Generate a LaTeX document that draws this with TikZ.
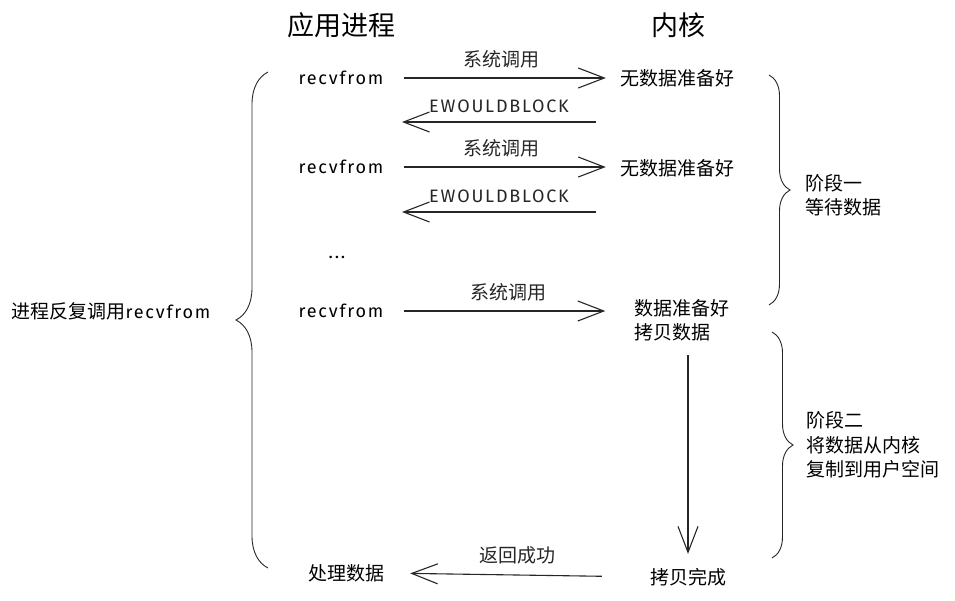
\documentclass[tikz,border=0pt]{standalone}
\usepackage{fontspec}
\setmainfont{Noto Sans CJK SC}
\newfontfamily\handfont[LetterSpace=10]{Fira Sans}
\usetikzlibrary{arrows.meta}
\usetikzlibrary{positioning}
\usetikzlibrary{decorations.pathreplacing}

\begin{document}
\begin{tikzpicture}
		[x=1pt,y=-1pt,
		every node/.style={inner sep=0pt,font=\fontsize{19}{24}\selectfont},
		head/.style={font=\fontsize{27}{30}\selectfont},
		call/.style={font=\handfont\fontsize{18}{22}\selectfont},
		fwd/.style={line width=1.1pt,black!85,-{Straight Barb[length=26pt,width=20pt,line width=1.1pt]}},
		curly/.style={line width=0.9pt,black!85,decorate},
		stage/.style={align=left,anchor=west,font=\fontsize{19}{24.5}\selectfont}]
		\useasboundingbox (0,0) rectangle (955,600);
		
		\node[head] (app) at (341,25) {应用进程};
		\node[head] (kern) at (678,25) {内核};
		
		\node[call] (r1) at (341,78) {recvfrom};
		\node[call] (r2) at (341,167) {recvfrom};
		\node[call] (dots) at (337,257) {...};
		\node[call] (r3) at (341,311) {recvfrom};
		\node (proc) at (346,573) {处理数据};
		
		\node (k1) at (677,78) {无数据准备好};
		\node (k2) at (677,168) {无数据准备好};
		\node[align=left] (k3) at (682,320) {数据准备好\\拷贝数据};
		\node (done) at (688,577) {拷贝完成};
		
		\node (loop) at (111,311) {进程反复调用{\handfont\fontsize{18}{22}\selectfont recvfrom}};
		\node[stage] (ph1) at (805,195) {阶段一\\等待数据};
		\node[stage] (ph2) at (806,445) {阶段二\\将数据从内核\\复制到用户空间};
		
		\coordinate (w1a) at (596,122);
		\coordinate (w1b) at (402,122);
		\coordinate (w2a) at (596,212);
		\coordinate (w2b) at (402,212);
		
		\foreach \from/\to/\gap in {r1/k1/14, r2/k2/14, r3/k3/29}
		\draw[fwd,shorten <=20pt,shorten >=\gap pt] (\from.east) -- (\from.east -| \to.west)
			node[midway,above=9pt] {系统调用};
		
		\foreach \from/\to in {w1a/w1b, w2a/w2b}
		\draw[fwd] (\from) -- (\to) node[midway,above=9pt,call] {EWOULDBLOCK};
		
		\draw[fwd,shorten <=14pt,shorten >=14pt] (k3.south -| done.north) -- (done.north);
		\draw[fwd,shorten <=48pt,shorten >=26pt] (done.west) -- (proc.east)
			node[midway,above=10pt] {返回成功};
		
		% braces
		\draw[curly,decoration={brace,amplitude=32pt}] (268,568) -- (268,72);
		\draw[curly,decoration={brace,amplitude=21pt}] (769,75) -- (769,305);
		\draw[curly,decoration={brace,amplitude=21pt}] (772,332) -- (772,558);
\end{tikzpicture}
\end{document}
